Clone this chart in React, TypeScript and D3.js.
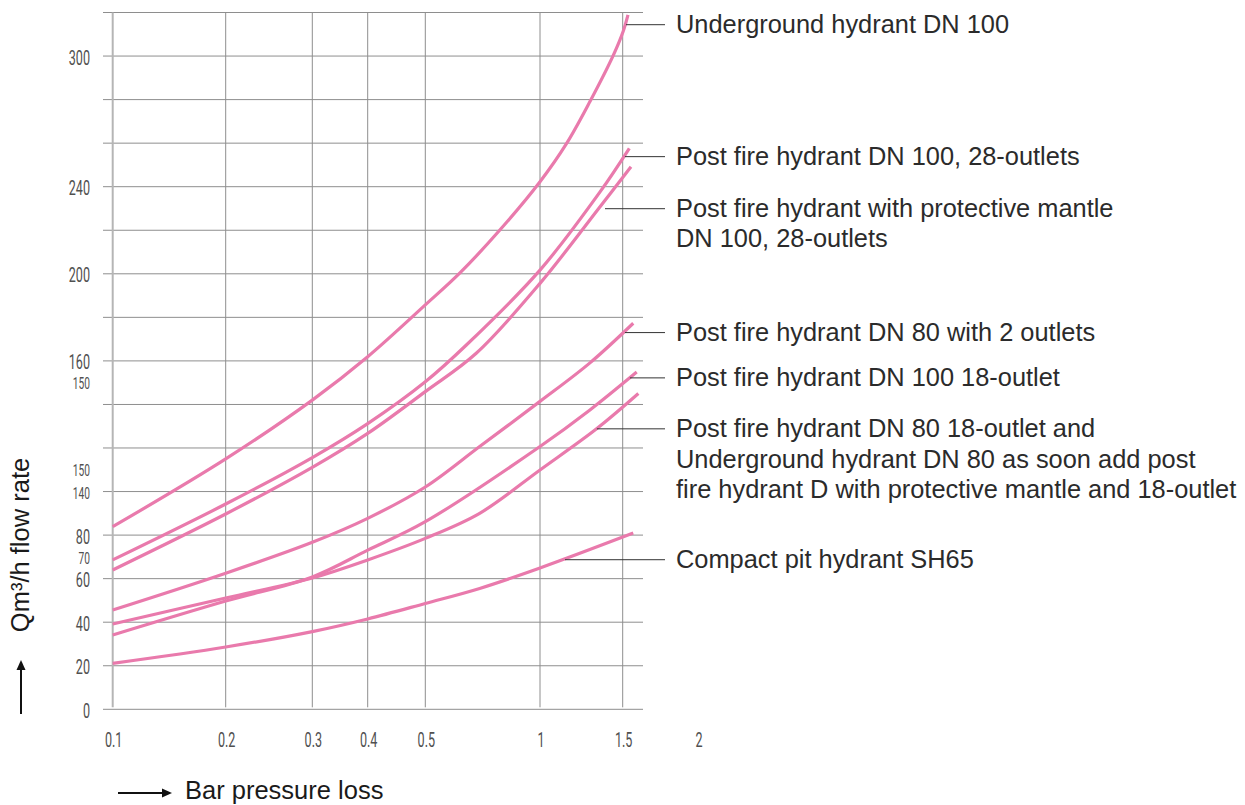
import React from "react";
import * as d3 from "d3";

// ---------- Data ----------
const xTickValues = [0.1, 0.2, 0.3, 0.4, 0.5, 1, 1.5, 2];
const xTickLabels = ["0.1", "0.2", "0.3", "0.4", "0.5", "1", "1.5", "2"];
const xGridValues = [0.1, 0.2, 0.3, 0.4, 0.5, 1, 1.5];

const yGridValues = [0, 20, 40, 60, 80, 140, 146.67, 153.33, 160, 180, 200, 220, 240, 260, 280, 300, 320];
const yTickValues = [0, 20, 40, 60, 70, 80, 140, 143.4, 156.8, 160, 200, 240, 300];
const yTickLabels = ["0", "20", "40", "60", "70", "80", "140", "150", "150", "160", "200", "240", "300"];
const yTickSmall = [false, false, false, false, true, false, true, true, true, false, false, false, false];

const undergroundDN100 = [
  [0.1, 91.6], [0.2, 145.0], [0.3, 154.0], [0.4, 161.9], [0.5, 185.7],
  [0.651, 200.4], [0.825, 220.1], [1.0, 242.3], [1.161, 259.9], [1.302, 279.1],
  [1.443, 300.3], [1.504, 311.5], [1.535, 318.9],
];
const postDN100_28 = [
  [0.1, 68.6], [0.2, 122.8], [0.3, 145.2], [0.4, 150.4], [0.5, 156.8],
  [0.679, 167.3], [1.0, 201.7], [1.363, 237.6], [1.544, 257.6],
];
const postMantleDN100_28 = [
  [0.1, 64.0], [0.2, 109.1], [0.3, 143.7], [0.4, 148.9], [0.5, 155.3],
  [0.722, 163.5], [1.0, 195.6], [1.363, 230.8], [1.555, 249.2],
];
const postDN80_2 = [
  [0.1, 45.6], [0.2, 62.5], [0.3, 76.7], [0.4, 103.1], [0.5, 140.7], [0.737, 146.9],
  [1.0, 153.8], [1.302, 159.7], [1.57, 177.3],
];
const postDN100_18 = [
  [0.1, 34.1], [0.2, 49.7], [0.3, 60.8], [0.4, 73.1], [0.5, 98.5], [1.0, 146.9],
  [1.302, 152.5], [1.593, 158.3],
];
const postDN80_18 = [
  [0.1, 39.2], [0.2, 51.1], [0.3, 60.3], [0.4, 68.6], [0.5, 78.5], [0.737, 110.0],
  [1.0, 143.3], [1.342, 149.6], [1.604, 155.0],
];
const compactSH65 = [
  [0.1, 21.1], [0.2, 28.6], [0.3, 35.7], [0.4, 41.5], [0.5, 48.6], [0.737, 55.5],
  [1.0, 64.9], [1.57, 82.8],
];

const seriesData = [undergroundDN100, postDN100_28, postMantleDN100_28, postDN80_2, postDN100_18, postDN80_18, compactSH65];
const seriesLabels = [
  ["Underground hydrant DN 100"],
  ["Post fire hydrant DN 100, 28-outlets"],
  ["Post fire hydrant with protective mantle", "DN 100, 28-outlets"],
  ["Post fire hydrant DN 80 with 2 outlets"],
  ["Post fire hydrant DN 100 18-outlet"],
  ["Post fire hydrant DN 80 18-outlet and", "Underground hydrant DN 80 as soon add post", "fire hydrant D with protective mantle and 18-outlet"],
  ["Compact pit hydrant SH65"],
];
const leaderAnchors = [
  [1.522, 314.4], [1.515, 253.8], [1.393, 229.9], [1.515, 173.0], [1.548, 157.4], [1.344, 149.6], [1.151, 68.7],
];

// ---------- Layout ----------
const W = 1245;
const H = 805;
const rowH = 43.55;
const bottom = 709.3;
const gridLeft = 103;
const gridRight = 643;
const labelX = 676;
const leaderEnd = 665;

const x = d3.scaleLinear()
  .domain(xTickValues)
  .range([112.7, 225.7, 312.3, 367.7, 425.3, 540, 622.7, 698]);
const y = d3.scaleLinear()
  .domain([0, 80, 140, 160, 320])
  .range([bottom, bottom - 4 * rowH, bottom - 5 * rowH, bottom - 8 * rowH, bottom - 16 * rowH]);

const pink = "#e97aac";
const gridColor = "#8e8e8e";
const condensed = "Roboto, 'DejaVu Sans', sans-serif";
const sans = "'Liberation Sans', Arial, sans-serif";

const line = d3.line<number[]>()
  .x((d) => x(d[0]))
  .y((d) => y(d[1]))
  .curve(d3.curveCatmullRom.alpha(0.5));

export default function App() {
  return (
    <svg width={W} height={H} style={{ position: "absolute", left: 0, top: 0, display: "block", background: "#fff" }}>
      {/* horizontal grid */}
      <g>
        {yGridValues.map((v, i) => (
          <line key={"h" + i} x1={gridLeft} x2={gridRight} y1={y(v)} y2={y(v)} stroke={gridColor} strokeWidth={1} />
        ))}
      </g>
      {/* vertical grid */}
      <g>
        {xGridValues.map((v, i) => (
          <line key={"v" + i} x1={x(v)} x2={x(v)} y1={y(320)} y2={bottom - 2} stroke={i === 0 ? "#b5b5b5" : gridColor} strokeWidth={i === 0 ? 2 : 1} />
        ))}
      </g>
      {/* y tick labels */}
      <g fill="#505050" fontFamily={condensed} fontWeight={400}>
        {yTickValues.map((v, i) => (
          <text
            key={"yt" + i}
            transform={`translate(90,${y(v) + (yTickSmall[i] ? 7 : 8.5)}) scale(0.6,1)`}
            textAnchor="end"
            fontSize={yTickSmall[i] ? 17 : 21}
          >
            {yTickLabels[i]}
          </text>
        ))}
      </g>
      {/* x tick labels */}
      <g fill="#505050" fontFamily={condensed} fontWeight={400}>
        {xTickValues.map((v, i) => (
          <text key={"xt" + i} transform={`translate(${x(v) + 1},746.5) scale(0.6,1)`} textAnchor="middle" fontSize={21}>
            {xTickLabels[i]}
          </text>
        ))}
      </g>
      {/* curves */}
      <g fill="none" stroke={pink} strokeWidth={3.2}>
        {seriesData.map((s, i) => (
          <path key={"s" + i} d={line(s) || ""} />
        ))}
      </g>
      {/* leaders and labels */}
      <g>
        {leaderAnchors.map((a, i) => {
          const ly = y(a[1]);
          return (
            <g key={"lg" + i}>
              <line x1={x(a[0])} x2={leaderEnd} y1={ly} y2={ly} stroke="#333" strokeWidth={1} />
              {seriesLabels[i].map((t, j) => (
                <text key={j} x={labelX} y={ly + 8.5 + j * 30.3} fontFamily={sans} fontSize={25.4} fill="#2b2b2b">
                  {t}
                </text>
              ))}
            </g>
          );
        })}
      </g>
      {/* axis titles */}
      <text transform="translate(29,545) rotate(-90)" textAnchor="middle" fontFamily={sans} fontSize={25.5} fill="#1a1a1a">
        Qm³/h flow rate
      </text>
      <g stroke="#111" strokeWidth={2} fill="#111">
        <line x1={21} x2={21} y1={714} y2={667} />
        <path d="M21,660 L16.5,670 L25.5,670 Z" stroke="none" />
        <line x1={118} x2={165} y1={793} y2={793} />
        <path d="M172,793 L162,788.5 L162,797.5 Z" stroke="none" />
      </g>
      <text x={185} y={799} fontFamily={sans} fontSize={25.5} fill="#1a1a1a">
        Bar pressure loss
      </text>
    </svg>
  );
}
